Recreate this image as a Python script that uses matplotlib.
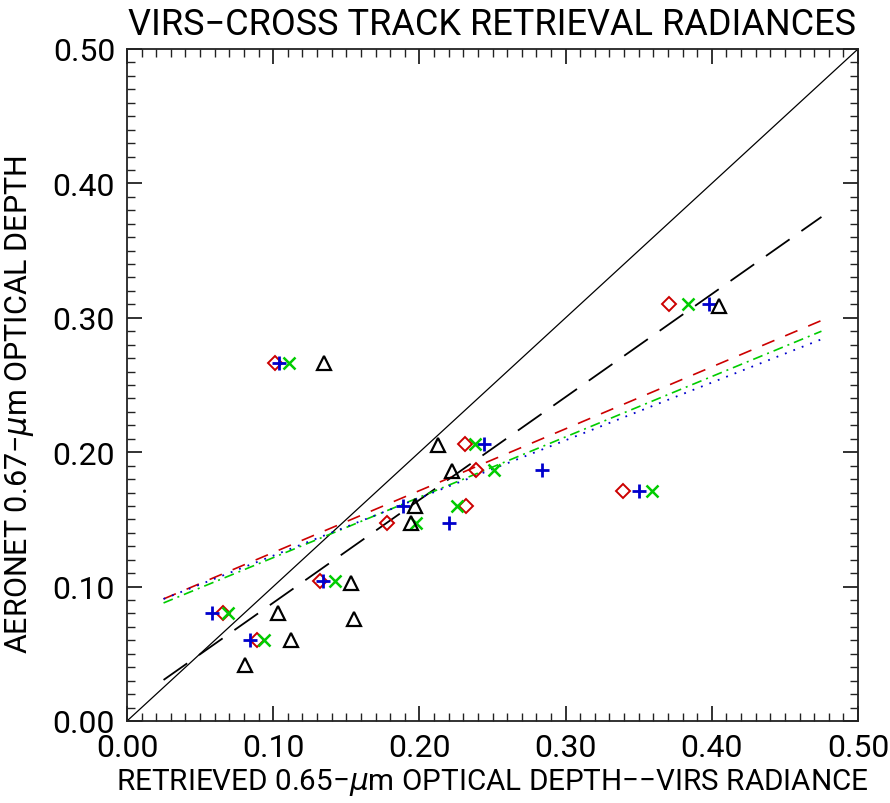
import matplotlib
matplotlib.use("Agg")
import matplotlib.pyplot as plt
import numpy as np
from matplotlib.ticker import MultipleLocator, FormatStrFormatter

plt.rcParams['font.family'] = ['Roboto', 'DejaVu Sans']
plt.rcParams['mathtext.fontset'] = 'custom'
plt.rcParams['mathtext.it'] = 'DejaVu Sans:italic'

# AERONET optical depth (y) shared by diamond/plus/x series
aeronet = [0.310, 0.266, 0.206, 0.187, 0.171, 0.160, 0.147, 0.104, 0.080, 0.060]
red_diamond_x = [0.371, 0.101, 0.231, 0.239, 0.339, 0.232, 0.178, 0.132, 0.066, 0.089]
blue_plus_x   = [0.398, 0.104, 0.244, 0.284, 0.350, 0.189, 0.220, 0.134, 0.058, 0.084]
green_x_x     = [0.384, 0.111, 0.238, 0.251, 0.359, 0.226, 0.198, 0.142, 0.069, 0.094]

# triangle series
tri_x = [0.405, 0.135, 0.213, 0.222, 0.197, 0.194, 0.153, 0.103, 0.155, 0.112, 0.081]
tri_y = [0.309, 0.266, 0.205, 0.186, 0.160, 0.147, 0.103, 0.080, 0.076, 0.060, 0.042]

# regression fit lines (slope, intercept) over x range
fit_range = [0.025, 0.475]
fit_black = (0.7656, 0.0114)
fit_red = (0.4604, 0.0793)
fit_green = (0.4493, 0.0766)
fit_blue = (0.4293, 0.0801)

RED = '#cc0000'
BLUE = '#0000cc'
GREEN = '#00cc00'

fig = plt.figure(figsize=(8.9, 8.04), dpi=100)
ax = fig.add_axes([127/890, 1 - 722/804, (858-127)/890, (722-50)/804])

# 1:1 line
ax.plot([0, 0.5], [0, 0.5], color='black', lw=0.9)

xf = np.array(fit_range)
ax.plot(xf, fit_black[0]*xf + fit_black[1], color='black', lw=1.3, dashes=(16, 8))
ax.plot(xf, fit_red[0]*xf + fit_red[1], color=RED, lw=1.2, dashes=(8, 7))
ax.plot(xf, fit_green[0]*xf + fit_green[1], color=GREEN, lw=1.2, dashes=(6, 3, 1.2, 3))
ax.plot(xf, fit_blue[0]*xf + fit_blue[1], color=BLUE, lw=1.3, dashes=(1, 4))

ax.plot(red_diamond_x, aeronet, linestyle='none', marker='D', markersize=7.2,
        markerfacecolor='none', markeredgecolor=RED, markeredgewidth=1.4)
ax.plot(blue_plus_x, aeronet, linestyle='none', marker='+', markersize=9.5,
        color=BLUE, markeredgewidth=2.0)
ax.plot(green_x_x, aeronet, linestyle='none', marker='x', markersize=8.5,
        color=GREEN, markeredgewidth=1.8)
ax.plot(tri_x, tri_y, linestyle='none', marker='^', markersize=10.5,
        markerfacecolor='none', markeredgecolor='black', markeredgewidth=1.6)

ax.set_xlim(0, 0.5)
ax.set_ylim(0, 0.5)
ax.xaxis.set_major_locator(MultipleLocator(0.1))
ax.yaxis.set_major_locator(MultipleLocator(0.1))
ax.xaxis.set_minor_locator(MultipleLocator(0.01))
ax.yaxis.set_minor_locator(MultipleLocator(0.01))
ax.xaxis.set_major_formatter(FormatStrFormatter('%.2f'))
ax.yaxis.set_major_formatter(FormatStrFormatter('%.2f'))
ax.tick_params(which='both', direction='in', top=True, right=True, color='#222222')
ax.tick_params(which='major', length=11, width=1.3, labelsize=23, pad=8.5)
ax.tick_params(which='minor', length=5.5, width=1.0)
for s in ax.spines.values():
    s.set_linewidth(1.3)
    s.set_color('#222222')

ax.set_title('VIRS−CROSS TRACK RETRIEVAL RADIANCES', fontsize=26, pad=11)
ax.set_xlabel('RETRIEVED 0.65−$\\mu$m OPTICAL DEPTH−−VIRS RADIANCE', fontsize=21.3, labelpad=3)
ax.set_ylabel('AERONET 0.67−$\\mu$m OPTICAL DEPTH', fontsize=22, labelpad=8)
ax.yaxis.set_label_coords(-0.125, 0.473)

fig.savefig('out.png', dpi=100)
